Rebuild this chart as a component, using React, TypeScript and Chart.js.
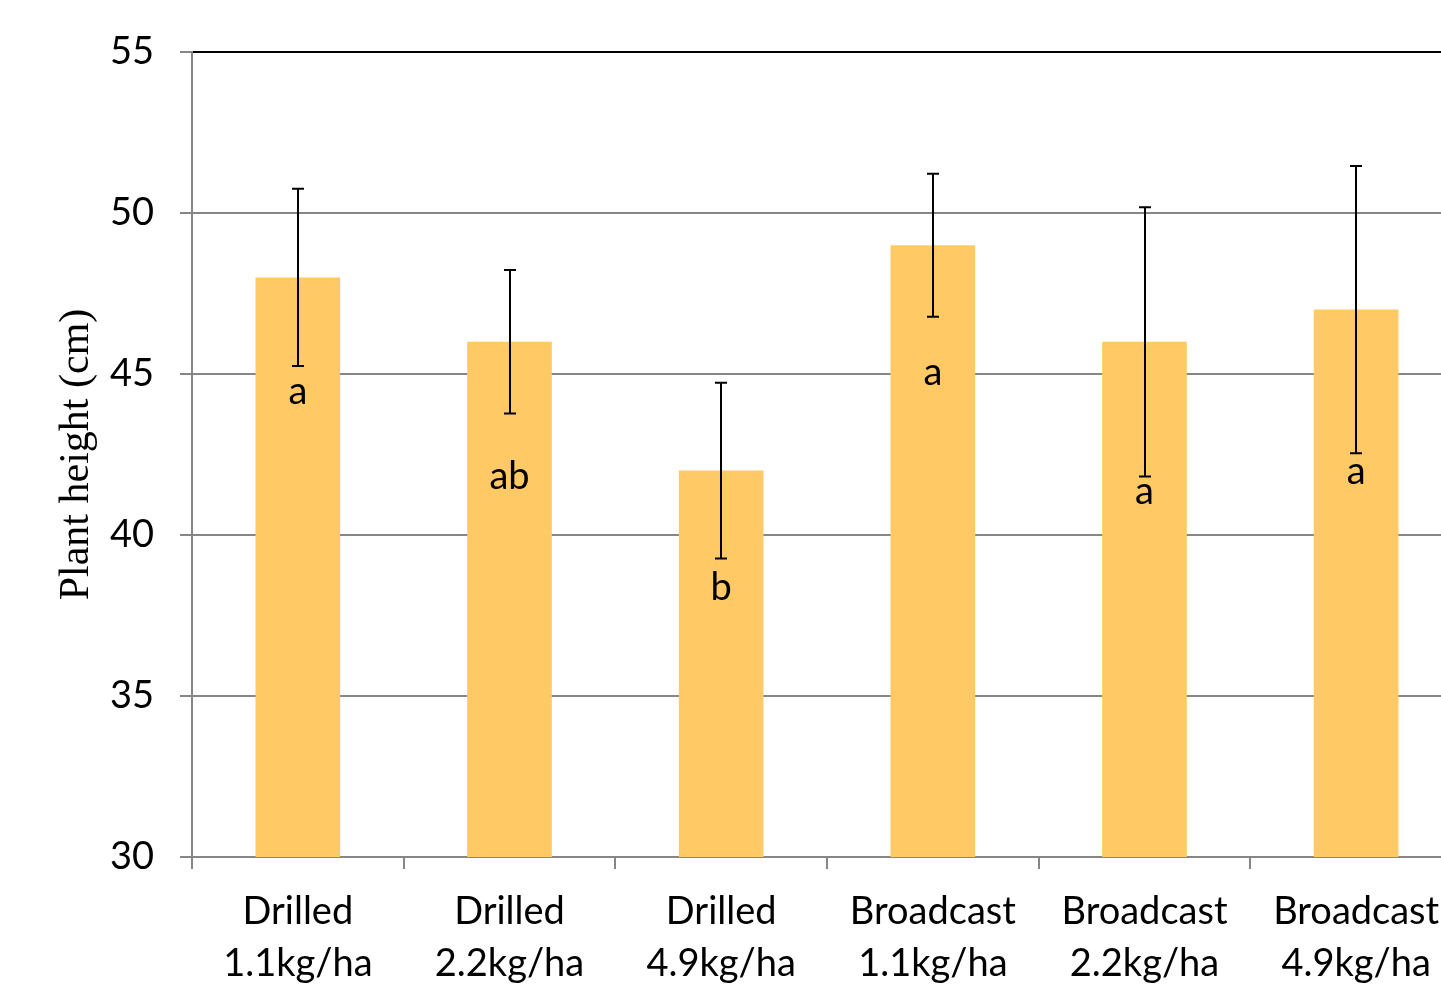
import React, { useEffect, useRef } from "react";
import { Chart, registerables } from "chart.js";

Chart.register(...registerables);

// Treatments (two-line category labels)
const categories: string[][] = [
  ["Drilled", "1.1kg/ha"],
  ["Drilled", "2.2kg/ha"],
  ["Drilled", "4.9kg/ha"],
  ["Broadcast", "1.1kg/ha"],
  ["Broadcast", "2.2kg/ha"],
  ["Broadcast", "4.9kg/ha"],
];

// Mean plant height (cm)
const heights: number[] = [48, 46, 42, 49, 46, 47];

// Error bar half-length (cm)
const errors: number[] = [2.75, 2.23, 2.73, 2.22, 4.18, 4.46];

// Significance letters and the height (cm) at which each one sits
const letters: string[] = ["a", "ab", "b", "a", "a", "a"];
const letterAt: number[] = [44.45, 41.8, 38.35, 45.05, 41.35, 41.95];

// Y axis range and step
const yMin = 30;
const yMax = 55;
const yStep = 5;

const SANS = "Lato, 'Liberation Sans', sans-serif";
const SERIF = "'Liberation Serif', 'DejaVu Serif', serif";

const errorBarsPlugin = {
  id: "errorBars",
  afterDatasetsDraw(chart: any) {
    const { ctx } = chart;
    const meta = chart.getDatasetMeta(0);
    const y = chart.scales.y;
    ctx.save();
    ctx.strokeStyle = "#000000";
    ctx.lineWidth = 2;
    meta.data.forEach((bar: any, i: number) => {
      const x = Math.round(bar.x);
      const top = y.getPixelForValue(heights[i] + errors[i]);
      const bot = y.getPixelForValue(heights[i] - errors[i]);
      const cap = 6;
      ctx.beginPath();
      ctx.moveTo(x, top);
      ctx.lineTo(x, bot);
      ctx.moveTo(x - cap, top);
      ctx.lineTo(x + cap, top);
      ctx.moveTo(x - cap, bot);
      ctx.lineTo(x + cap, bot);
      ctx.stroke();
    });
    // significance letters
    ctx.fillStyle = "#000000";
    ctx.font = `38px ${SANS}`;
    ctx.textAlign = "center";
    ctx.textBaseline = "middle";
    meta.data.forEach((bar: any, i: number) => {
      ctx.fillText(letters[i], bar.x, y.getPixelForValue(letterAt[i]));
    });
    ctx.restore();
  },
};

export default function App() {
  const canvasRef = useRef<HTMLCanvasElement | null>(null);

  useEffect(() => {
    const canvas = canvasRef.current;
    if (!canvas) return;
    const chart = new Chart(canvas, {
      type: "bar",
      data: {
        labels: categories,
        datasets: [
          {
            data: heights,
            backgroundColor: "#FFCA65",
            borderWidth: 0,
            barPercentage: 0.4,
            categoryPercentage: 1,
          },
        ],
      },
      options: {
        animation: false,
        responsive: false,
        devicePixelRatio: 1,
        layout: { padding: { top: 52, right: 8, bottom: 0, left: 0 } },
        plugins: {
          legend: { display: false },
          tooltip: { enabled: false },
        },
        scales: {
          x: {
            offset: true,
            grid: {
              offset: true,
              drawOnChartArea: false,
              drawTicks: true,
              tickLength: 12,
              color: "#868686",
              lineWidth: 2,
            },
            border: { color: "#868686", width: 2 },
            ticks: {
              color: "#000000",
              font: { family: SANS, size: 38, lineHeight: 1.37 },
              padding: 17,
              maxRotation: 0,
              autoSkip: false,
            },
            afterFit(scale: any) {
              scale.height = 132;
            },
          },
          y: {
            min: yMin,
            max: yMax,
            grid: {
              color: (c: any) => (c.tick && c.tick.value === yMax ? "#000000" : "#868686"),
              tickColor: "#868686",
              lineWidth: 2,
              tickLength: 12,
            },
            border: { color: "#868686", width: 2 },
            ticks: {
              stepSize: yStep,
              color: "#000000",
              font: { family: SANS, size: 38 },
              padding: 26,
            },
            title: {
              display: true,
              text: "Plant height (cm)",
              color: "#000000",
              font: { family: SERIF, size: 42 },
              padding: { top: 52, bottom: 0 },
            },
            afterFit(scale: any) {
              scale.width = 192;
            },
          },
        },
      },
      plugins: [errorBarsPlugin],
    });
    return () => chart.destroy();
  }, []);

  return (
    <div
      style={{
        position: "fixed",
        left: 0,
        top: 0,
        width: 1441,
        height: 989,
        overflow: "hidden",
        background: "#ffffff",
      }}
    >
      <canvas ref={canvasRef} width={1470} height={989} style={{ display: "block" }} />
    </div>
  );
}
